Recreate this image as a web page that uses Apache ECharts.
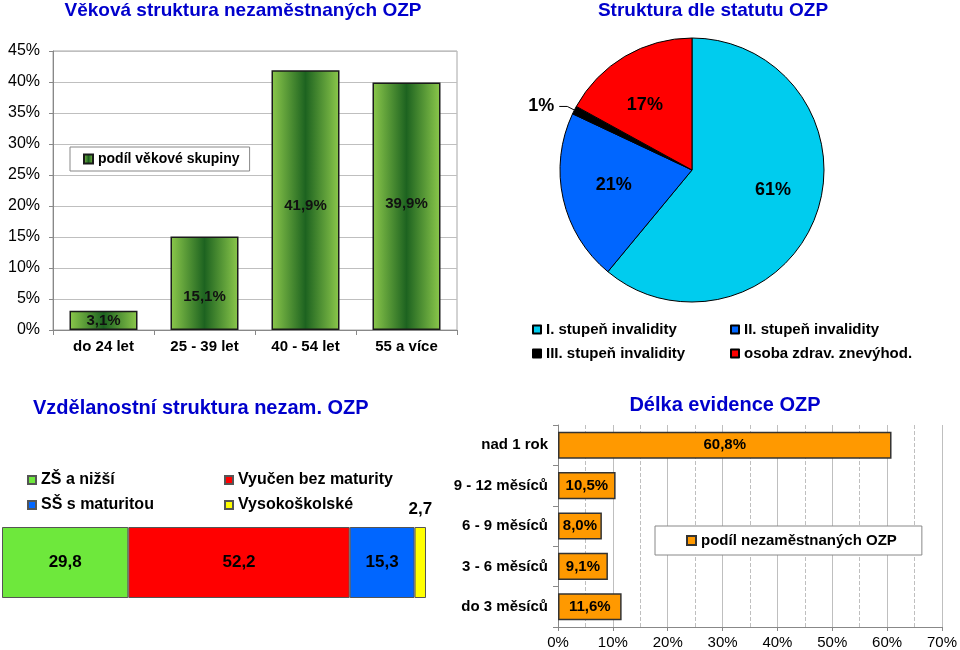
<!DOCTYPE html>
<html><head><meta charset="utf-8">
<script src="https://cdn.jsdelivr.net/npm/echarts@6/dist/echarts.min.js"></script>
<style>html,body{margin:0;padding:0;background:#fff}#c{width:960px;height:650px}</style>
</head><body><div id="c"></div>
<script>
// ---- data ----
const ageCategories = ['do 24 let', '25 - 39 let', '40 - 54 let', '55 a více'];
const ageValues = [3.1, 15.1, 41.9, 39.9];
const ageSeriesName = 'podíl věkové skupiny';

const statusNames = ['I. stupeň invalidity', 'II. stupeň invalidity', 'III. stupeň invalidity', 'osoba zdrav. znevýhod.'];
const statusValues = [61, 21, 1, 17];

const eduNames = ['ZŠ a nižší', 'Vyučen bez maturity', 'SŠ s maturitou', 'Vysokoškolské'];
const eduValues = [29.8, 52.2, 15.3, 2.7];

const durCategories = ['do 3 měsíců', '3 - 6 měsíců', '6 - 9 měsíců', '9 - 12 měsíců', 'nad 1 rok'];
const durValues = [11.6, 9.1, 8.0, 10.5, 60.8];
const durSeriesName = 'podíl nezaměstnaných OZP';

// ---- styles ----
const FONT = 'Arial, "Liberation Sans", sans-serif';
const NARROW = '"Liberation Sans Narrow", "Arial Narrow", Arial, sans-serif';
const TITLE_COLOR = '#0000CC';
const GRID_COLOR = '#BFBFBF';
const ageLabelOffsets = [[0, 0], [0, 14], [0, 6], [0, -2]];
const pieColors = ['#00CCEE', '#0066FF', '#000000', '#FF0000'];
const pieLabelOffsets = [[16, -3], [-11, 0], null, [-12, -6]];
const eduColors = ['#6EE83C', '#FF0000', '#0066FF', '#FFFF00'];

const fmtComma = v => v.toFixed(1).replace('.', ',');

const greenGrad = new echarts.graphic.LinearGradient(0, 0, 1, 0, [
  { offset: 0, color: '#8CC84B' },
  { offset: 0.5, color: '#1D6320' },
  { offset: 1, color: '#8CC84B' }
]);

const chart = echarts.init(document.getElementById('c'), null, { renderer: 'canvas' });

const titleStyle = size => ({ fontFamily: FONT, fontWeight: 'bold', fontSize: size, color: TITLE_COLOR });

const option = {
  animation: false,
  textStyle: { fontFamily: FONT },
  title: [
    { text: 'Věková struktura nezaměstnaných OZP', left: 243, top: 1, textAlign: 'center', padding: 0, textStyle: titleStyle(19) },
    { text: 'Struktura dle statutu OZP', left: 713, top: 1, textAlign: 'center', padding: 0, textStyle: titleStyle(19) },
    { text: 'Vzdělanostní struktura nezam. OZP', left: 33, top: 398, padding: 0, textStyle: titleStyle(20) },
    { text: 'Délka evidence OZP', left: 725, top: 395, textAlign: 'center', padding: 0, textStyle: titleStyle(20) }
  ],
  legend: [
    {
      data: [ageSeriesName], left: 70, top: 147, padding: [5, 10, 5, 13],
      borderColor: '#888', borderWidth: 1, backgroundColor: '#fff',
      itemWidth: 9, itemHeight: 9, icon: 'rect',
      textStyle: { fontSize: 14, fontWeight: 'bold', color: '#000' }
    },
    {
      data: [statusNames[0], statusNames[2]], orient: 'vertical', left: 532, top: 322, padding: 0,
      itemWidth: 8, itemHeight: 8, itemGap: 9, icon: 'rect',
      textStyle: { fontSize: 15, fontWeight: 'bold', color: '#000' }
    },
    {
      data: [statusNames[1], statusNames[3]], orient: 'vertical', left: 730, top: 322, padding: 0,
      itemWidth: 8, itemHeight: 8, itemGap: 9, icon: 'rect',
      textStyle: { fontSize: 15, fontWeight: 'bold', color: '#000' }
    },
    {
      data: [eduNames[0], eduNames[2]], orient: 'vertical', left: 27, top: 472, padding: 0,
      itemWidth: 8, itemHeight: 8, itemGap: 9, icon: 'rect',
      textStyle: { fontSize: 16, fontWeight: 'bold', fontFamily: NARROW, color: '#000' }
    },
    {
      data: [eduNames[1], eduNames[3]], orient: 'vertical', left: 224, top: 472, padding: 0,
      itemWidth: 8, itemHeight: 8, itemGap: 9, icon: 'rect',
      textStyle: { fontSize: 16, fontWeight: 'bold', fontFamily: NARROW, color: '#000' }
    },
    {
      data: [durSeriesName], left: 655, top: 526, padding: [7, 25, 7, 31],
      borderColor: '#888', borderWidth: 1, backgroundColor: '#fff',
      itemWidth: 9, itemHeight: 9, icon: 'rect',
      textStyle: { fontSize: 15, fontWeight: 'bold', color: '#000' }
    }
  ],
  grid: [
    { left: 53, top: 51, width: 404, height: 279, show: true, borderColor: '#A6A6A6', borderWidth: 1, backgroundColor: 'transparent' },
    { left: 2, top: 527, width: 424, height: 71 },
    { left: 558, top: 425, width: 385, height: 202 }
  ],
  xAxis: [
    {
      gridIndex: 0, type: 'category', data: ageCategories,
      axisLine: { lineStyle: { color: '#888' } },
      axisTick: { show: true, length: 5, lineStyle: { color: '#888' } },
      axisLabel: { fontSize: 15, fontWeight: 'bold', color: '#000', margin: 9 }
    },
    { gridIndex: 1, type: 'value', min: 0, max: 100, show: false },
    {
      gridIndex: 2, type: 'value', min: 0, max: 70, interval: 10,
      axisLine: { show: true, lineStyle: { color: '#888' } },
      axisTick: { show: true, length: 4, lineStyle: { color: '#888' } },
      axisLabel: { fontSize: 15, color: '#000', margin: 8, formatter: '{value}%' },
      splitLine: { show: true, lineStyle: { color: GRID_COLOR } },
      minorTick: { show: false, splitNumber: 2 },
      minorSplitLine: { show: true, lineStyle: { color: GRID_COLOR, type: 'dashed' } }
    }
  ],
  yAxis: [
    {
      gridIndex: 0, type: 'value', min: 0, max: 45, interval: 5,
      axisLine: { show: true, lineStyle: { color: '#888' } },
      axisTick: { show: true, length: 4, lineStyle: { color: '#888' } },
      axisLabel: { fontSize: 16, color: '#000', margin: 13, formatter: '{value}%' },
      splitLine: { lineStyle: { color: GRID_COLOR } }
    },
    { gridIndex: 1, type: 'category', data: ['vzdělání'], show: false },
    {
      gridIndex: 2, type: 'category', data: durCategories,
      axisLine: { show: true, lineStyle: { color: '#888' } },
      axisTick: { show: true, length: 5, lineStyle: { color: '#888' } },
      axisLabel: { fontSize: 15, fontWeight: 'bold', color: '#000', margin: 10 }
    }
  ],
  series: [
    {
      name: ageSeriesName, type: 'bar', xAxisIndex: 0, yAxisIndex: 0,
      barWidth: 68,
      data: ageValues.map((v, i) => ({ value: v, label: { offset: ageLabelOffsets[i] } })),
      itemStyle: { color: greenGrad, borderColor: '#1a1a1a', borderWidth: 1.5 },
      label: {
        show: true, position: 'inside', fontSize: 15, fontWeight: 'bold', color: '#111',
        formatter: p => fmtComma(p.value) + '%'
      }
    },
    {
      name: 'Struktura dle statutu OZP', type: 'pie', center: [692, 170], radius: 132,
      startAngle: 90, clockwise: true, avoidLabelOverlap: false,
      data: statusNames.map((n, i) => {
        const d = { name: n, value: statusValues[i], itemStyle: { color: pieColors[i] } };
        if (pieLabelOffsets[i]) {
          d.label = { position: 'inside', offset: pieLabelOffsets[i] };
        } else {
          d.label = { position: 'outside' };
          d.labelLine = { show: true, length: 8, length2: 8, lineStyle: { color: '#000', width: 1 } };
        }
        return d;
      }),
      itemStyle: { borderColor: '#000', borderWidth: 1 },
      label: { show: true, fontSize: 18, fontWeight: 'bold', color: '#000', formatter: '{c}%' },
      labelLine: { show: false },
      emphasis: { disabled: true }
    },
    ...eduNames.map((n, i) => ({
      name: n, type: 'bar', stack: 'edu', xAxisIndex: 1, yAxisIndex: 1,
      barCategoryGap: '0%', barWidth: 71,
      data: [eduValues[i]],
      itemStyle: { color: eduColors[i], borderColor: '#555', borderWidth: 1 },
      label: {
        show: true, position: i === 3 ? 'top' : 'inside', distance: 9,
        fontSize: 17, fontWeight: 'bold', fontFamily: NARROW, color: '#000',
        formatter: p => fmtComma(p.value)
      }
    })),
    {
      name: durSeriesName, type: 'bar', xAxisIndex: 2, yAxisIndex: 2,
      barCategoryGap: '33%',
      data: durValues,
      itemStyle: { color: '#FF9900', borderColor: '#333', borderWidth: 1.5 },
      label: {
        show: true, position: 'inside', fontSize: 15, fontWeight: 'bold', color: '#000',
        formatter: p => fmtComma(p.value) + '%'
      }
    }
  ]
};
chart.setOption(option);
</script>
</body></html>
